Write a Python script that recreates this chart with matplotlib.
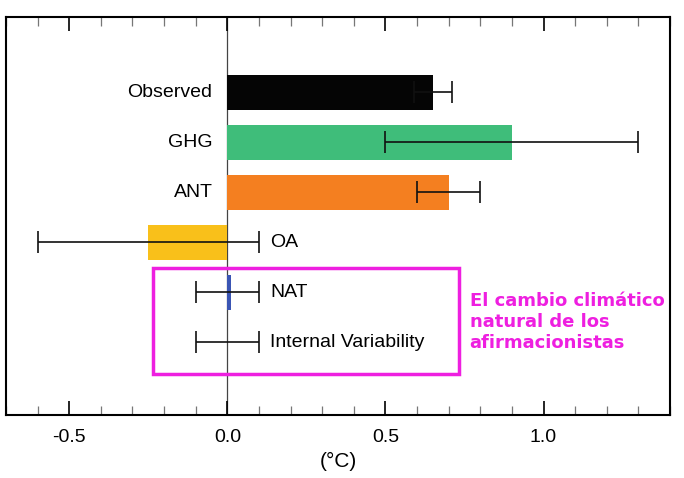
import matplotlib
matplotlib.use("Agg")
import matplotlib.pyplot as plt
from matplotlib.patches import Rectangle
from matplotlib.ticker import MultipleLocator

# attributed warming (degC)
labels = ["Observed", "GHG", "ANT", "OA", "NAT", "Internal Variability"]
values = [0.65, 0.90, 0.70, -0.25, 0.01, 0.0]
err_lo = [0.59, 0.50, 0.60, -0.60, -0.10, -0.10]
err_hi = [0.71, 1.30, 0.80, 0.10, 0.10, 0.10]
colors = ["#050505", "#3fbd7a", "#f47f20", "#f9c01a", "#3a55b4", "#ffffff"]
xticks = [-0.5, 0.0, 0.5, 1.0]
note = "El cambio climático\nnatural de los\nafirmacionistas"
MAG = "#ee1fe0"
FS = 14

plt.rcParams["font.family"] = ["Liberation Sans", "DejaVu Sans"]

fig = plt.figure(figsize=(6.84, 4.78), dpi=100)
ax = fig.add_axes([0.0088, 0.1318, 0.9707, 0.8326])

ypos = list(range(len(labels)))
ax.axvline(0, color="#444", lw=0.9, zorder=1)
ax.barh(ypos, values, height=0.7, color=colors, zorder=2)
for y, v, lo, hi in zip(ypos, values, err_lo, err_hi):
    ax.errorbar([v], [y], xerr=[[v - lo], [hi - v]], fmt="none", ecolor="#111",
                elinewidth=1.2, capsize=8, capthick=1.2, zorder=3)

for y, v, hi, lab in zip(ypos, values, err_hi, labels):
    if v > 0.05:
        ax.text(-0.047, y, lab, ha="right", va="center", fontsize=FS)
    else:
        ax.text(hi + 0.035, y, lab, ha="left", va="center", fontsize=FS)

ax.add_patch(Rectangle((-0.234, 3.52), 0.968, 2.12, fill=False, ec=MAG, lw=2.5, zorder=4))
ax.text(0.766, 4.6, note, ha="left", va="center", color=MAG, fontsize=13,
        fontweight="bold", family="DejaVu Sans", linespacing=1.2)

ax.set_xlim(-0.7, 1.4)
ax.set_ylim(6.46, -1.5)
ax.set_yticks([])
ax.set_xticks(xticks)
ax.set_xticklabels([f"{t:.1f}" for t in xticks])
ax.xaxis.set_minor_locator(MultipleLocator(0.1))
ax.tick_params(axis="x", which="major", direction="in", top=True, length=10,
               width=1.2, labelsize=FS, pad=10)
ax.tick_params(axis="x", which="minor", direction="in", top=True, length=6.5,
               width=0.9, color="#777")
for s in ax.spines.values():
    s.set_linewidth(1.5)
ax.set_xlabel("(°C)", fontsize=15, labelpad=4)

fig.savefig("out.png", dpi=100)
